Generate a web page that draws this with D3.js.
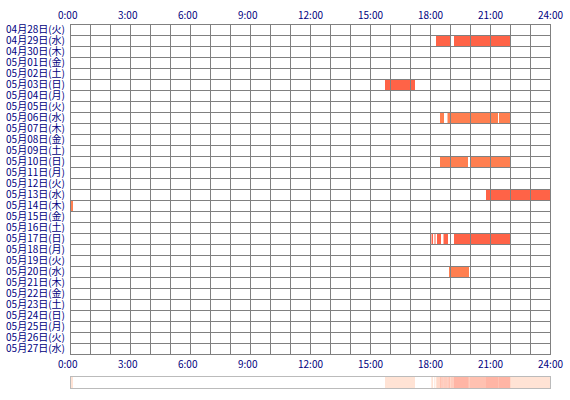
<!DOCTYPE html>
<html>
<head>
<meta charset="utf-8">
<script src="https://cdn.jsdelivr.net/npm/d3@7"></script>
<style>
  body { margin: 0; background: #fff; }
  text { font-family: "Noto Sans CJK JP", "DejaVu Sans", sans-serif; }
</style>
</head>
<body>
<svg width="570" height="400"></svg>
<script>
// rows, one per day
var days = ["04月28日(火)", "04月29日(水)", "04月30日(木)", "05月01日(金)", "05月02日(土)",
  "05月03日(日)", "05月04日(月)", "05月05日(火)", "05月06日(水)", "05月07日(木)",
  "05月08日(金)", "05月09日(土)", "05月10日(日)", "05月11日(月)", "05月12日(火)",
  "05月13日(水)", "05月14日(木)", "05月15日(金)", "05月16日(土)", "05月17日(日)",
  "05月18日(月)", "05月19日(火)", "05月20日(水)", "05月21日(木)", "05月22日(金)",
  "05月23日(土)", "05月24日(日)", "05月25日(月)", "05月26日(火)", "05月27日(水)"];

var tickHours = [0, 3, 6, 9, 12, 15, 18, 21, 24];
var tickLabels = ["0:00", "3:00", "6:00", "9:00", "12:00", "15:00", "18:00", "21:00", "24:00"];

// activity per day: [day, start hour, end hour]
var sessions = [
  ["04月29日(水)", 18.3, 19.0], ["04月29日(水)", 19.2, 22.0],
  ["05月03日(日)", 15.75, 17.25],
  ["05月06日(水)", 18.5, 18.7], ["05月06日(水)", 18.875, 21.4], ["05月06日(水)", 21.45, 22.05],
  ["05月10日(日)", 18.5, 19.9], ["05月10日(日)", 20.0, 22.0],
  ["05月13日(水)", 20.8, 24.0],
  ["05月14日(木)", 0.0, 0.15],
  ["05月17日(日)", 18.075, 18.15], ["05月17日(日)", 18.225, 18.275], ["05月17日(日)", 18.35, 18.55],
  ["05月17日(日)", 18.675, 18.9], ["05月17日(日)", 19.2, 22.0],
  ["05月20日(水)", 18.95, 19.0], ["05月20日(水)", 19.05, 19.95]
];
// days drawn in the lighter shade
var lightDays = ["05月06日(水)", "05月10日(日)", "05月14日(木)", "05月20日(水)"];

var svg = d3.select("svg"),
    margin = {top: 24, left: 70},
    width = 480,
    rowH = 11,
    height = rowH * days.length;

var x = d3.scaleLinear().domain([0, 24]).range([0, width]),
    y = d3.scaleBand().domain(days).range([0, height]);

var g = svg.append("g")
    .attr("transform", "translate(" + margin.left + "," + margin.top + ")");

// bars
g.selectAll(".bar")
    .data(sessions)
    .enter().append("rect")
      .attr("class", "bar")
      .attr("x", function(d) { return x(d[1]); })
      .attr("y", function(d) { return y(d[0]); })
      .attr("width", function(d) { return x(d[2]) - x(d[1]); })
      .attr("height", y.bandwidth())
      .attr("fill", function(d) { return lightDays.indexOf(d[0]) >= 0 ? "#ff7f50" : "#ff6347"; });

// grid
var grid = g.append("g")
    .attr("stroke", "#808080")
    .attr("stroke-width", 1)
    .attr("shape-rendering", "crispEdges");

grid.selectAll(".v")
    .data(d3.range(0, 25))
    .enter().append("line")
      .attr("x1", function(d) { return x(d) + 0.5; })
      .attr("x2", function(d) { return x(d) + 0.5; })
      .attr("y1", 0)
      .attr("y2", height + 0.5);

grid.selectAll(".h")
    .data(days.concat([null]))
    .enter().append("line")
      .attr("x1", 0)
      .attr("x2", width + 0.5)
      .attr("y1", function(d, i) { return i * y.step() + 0.5; })
      .attr("y2", function(d, i) { return i * y.step() + 0.5; });

// day labels
g.selectAll(".day")
    .data(days)
    .enter().append("text")
      .attr("x", -5)
      .attr("y", function(d) { return y(d) + y.bandwidth() / 2; })
      .attr("dy", "0.35em")
      .attr("text-anchor", "end")
      .attr("fill", "#000080")
      .attr("font-size", "10px")
      .text(function(d) { return d; });

// hour labels, top and bottom
[-9, height + 10].forEach(function(ty) {
  g.selectAll(null)
      .data(tickHours)
      .enter().append("text")
        .attr("x", function(d) { return x(d) - 12; })
        .attr("y", ty)
        .attr("dy", "0.35em")
        .attr("fill", "#000080")
        .attr("font-size", "10px")
        .text(function(d, i) { return tickLabels[i]; });
});

// density strip under the chart
var counts = d3.range(0, 24 * 60).map(function(m) {
  var h = (m + 0.5) / 60;
  var hit = {};
  sessions.forEach(function(s) { if (h >= s[1] && h < s[2]) hit[s[0]] = 1; });
  return Object.keys(hit).length;
});
var runs = [];
counts.forEach(function(c, m) {
  var last = runs[runs.length - 1];
  if (last && last.c === c) last.end = m + 1;
  else runs.push({c: c, start: m, end: m + 1});
});

var color = d3.scaleLinear().domain([0, 1, 5]).range(["#ffffff", "#ffe3d5", "#ffb5a5"]);

var strip = g.append("g")
    .attr("transform", "translate(0," + (height + 22) + ")");

strip.selectAll("rect")
    .data(runs.filter(function(r) { return r.c > 0; }))
    .enter().append("rect")
      .attr("x", function(d) { return x(d.start / 60); })
      .attr("width", function(d) { return x(d.end / 60) - x(d.start / 60); })
      .attr("y", 0)
      .attr("height", 12)
      .attr("fill", function(d) { return color(d.c); });

strip.append("rect")
    .attr("x", 0.5)
    .attr("y", 0.5)
    .attr("width", width)
    .attr("height", 12)
    .attr("fill", "none")
    .attr("stroke", "#bbbbbb")
    .attr("shape-rendering", "crispEdges");
</script>
</body>
</html>
